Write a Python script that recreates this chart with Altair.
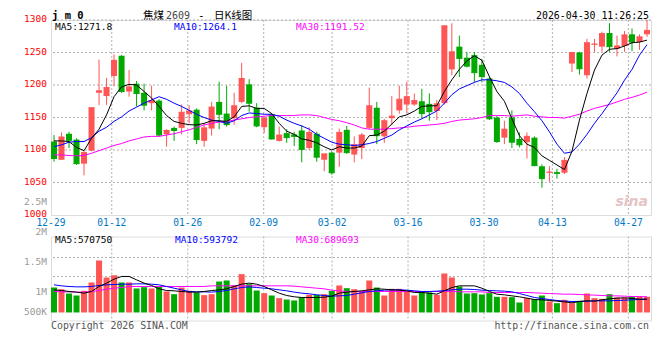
import altair as alt
import pandas as pd

# ---------------- data ----------------
tick_idx = [0, 8, 18, 28, 37, 47, 57, 66, 76]
tick_labels = ["12-29", "01-12", "01-26", "02-09", "03-02", "03-16", "03-30", "04-13", "04-27"]

opens = [1113,1085,1125,1116,1079,1099,1188,1183,1214,1245,
         1190,1202,1188,1172,1176,1124,1134,1134,1155,1162,
         1114,1133,1174,1156,1149,1174,1201,1165,1135,1155,
         1114,1126,1124,1130,1103,1125,1085,1096,1096,1131,
         1093,1103,1134,1165,1121,1149,1161,1170,1170,1175,
         1171,1160,1172,1224,1259,1242,1246,1231,1210,1150,
         1119,1150,1117,1112,1119,1075,1065,1066,1065,1233,
         1250,1215,1262,1259,1280,1256,1260,1278,1266,1278]
highs = [1123,1127,1128,1118,1099,1166,1239,1211,1247,1246,
         1223,1206,1202,1199,1178,1132,1136,1170,1169,1164,
         1141,1174,1205,1199,1188,1234,1209,1172,1151,1157,
         1136,1132,1128,1138,1135,1128,1094,1098,1133,1137,
         1121,1126,1196,1174,1148,1183,1199,1205,1187,1194,
         1187,1177,1291,1295,1276,1251,1251,1240,1213,1152,
         1145,1161,1127,1127,1121,1078,1075,1071,1089,1251,
         1251,1271,1271,1282,1295,1276,1283,1287,1278,1300]
lows = [1082,1085,1103,1077,1061,1098,1169,1169,1198,1188,
        1182,1167,1161,1161,1121,1105,1114,1124,1141,1109,
        1105,1122,1132,1136,1139,1172,1159,1135,1126,1116,
        1113,1111,1106,1081,1100,1082,1067,1062,1074,1094,
        1081,1086,1132,1109,1111,1138,1156,1156,1168,1149,
        1145,1146,1170,1215,1212,1227,1204,1204,1146,1111,
        1109,1103,1104,1087,1075,1042,1051,1056,1063,1220,
        1216,1210,1251,1251,1251,1244,1251,1252,1254,1274]
closes = [1087,1120,1115,1079,1096,1165,1191,1196,1238,1190,
          1197,1187,1169,1176,1123,1130,1130,1158,1160,1116,
          1134,1166,1155,1139,1168,1210,1172,1137,1149,1117,
          1123,1119,1121,1101,1127,1089,1094,1065,1127,1096,
          1108,1123,1168,1122,1145,1152,1178,1182,1176,1156,
          1159,1171,1291,1251,1241,1229,1219,1213,1148,1113,
          1132,1112,1108,1121,1076,1056,1066,1064,1084,1250,
          1225,1265,1263,1279,1259,1260,1277,1266,1274,1284]

ma5 = [1114,1114,1113,1104,1099,1118,1132,1154,1182,1197,
       1201,1200,1190,1180,1167,1153,1144,1141,1139,1138.5,
       1141,1145,1145,1144,1151,1167,1168,1164,1164,1156,
       1141,1129,1124,1117,1115,1111,1105,1100,1105,1103,
       1103,1106,1122,1123,1129,1140,1151,1154,1160,1167,
       1168,1168,1190,1208,1224,1237,1245,1238,1213,1190,
       1175,1148,1122,1109,1104,1091,1084,1077,1070,1098,
       1146,1187,1223,1246,1255,1256,1260,1265,1266,1269]
ma10 = [1105,1108,1112,1113,1113,1119,1129,1135,1144,1151,
        1160,1166,1172,1177,1182,1178,1172,1167,1161,1155,
        1150,1146,1144,1141,1145,1153,1157,1156,1155,1155,
        1152,1146,1141,1137,1132,1124,1118,1112,1109,1108,
        1107,1108,1110,1113,1118,1123,1131,1137,1143,1148,
        1154,1160,1172,1185,1194,1199,1204,1208,1208,1206.5,
        1204,1197,1187,1172,1159,1145,1128,1109,1095,1097,
        1109,1124,1141,1156,1172,1188,1207.5,1224,1246,1262]
ma30 = [1092.5,1092.5,1091.5,1091,1091.5,1095,1099,1103,1107,1110,
        1114,1117,1120,1121,1121,1123,1125,1128,1131,1135,
        1138.5,1141,1143,1144,1146,1148,1150,1151,1152,1153,
        1153,1153,1153,1154,1154,1153,1150,1147,1145,1142,
        1138.5,1134,1132,1132,1132,1133,1134,1135,1136.5,1137.5,
        1138.5,1139.5,1141,1144,1146,1147,1148,1150,1153,1153,
        1153,1152,1153,1154,1152,1151,1150,1150,1149,1152,
        1155,1160,1164,1167,1170,1174,1178,1181,1184.5,1189]

# volume, in millions (units of the picture's volume axis)
vol = [1.083,1.055,0.983,0.95,1.028,1.167,1.533,1.25,1.289,1.167,
       1.167,1.067,1.089,1.067,1.094,1.017,0.972,1.083,1.028,1.0,
       0.956,0.972,1.183,1.2,1.117,1.306,1.139,1.033,0.989,0.95,
       0.906,0.883,0.867,0.917,0.961,0.961,0.972,1.028,1.117,1.072,
       1.055,1.017,1.2,1.083,0.95,1.061,1.061,1.017,0.95,1.0,
       1.0,0.961,1.317,1.25,1.1,0.983,0.989,0.967,0.989,0.928,
       0.928,0.922,0.833,0.906,0.889,0.95,0.85,0.822,0.878,0.822,
       0.861,0.983,0.906,0.894,0.972,0.917,0.917,0.933,0.928,0.928]
vma5 = [1.044,1.033,1.017,1.006,0.989,1.017,1.1,1.156,1.222,1.267,
        1.267,1.211,1.156,1.117,1.061,1.033,1.028,1.017,1.006,1.006,
        1.017,1.033,1.044,1.061,1.1,1.139,1.156,1.139,1.1,1.044,
        0.989,0.95,0.928,0.917,0.917,0.917,0.922,0.94,0.989,1.006,
        1.017,1.028,1.044,1.061,1.055,1.044,1.039,1.028,1.0,1.0,
        0.989,0.972,1.028,1.083,1.111,1.111,1.111,1.072,1.017,0.972,
        0.961,0.944,0.928,0.906,0.883,0.878,0.867,0.856,0.844,0.828,
        0.85,0.861,0.856,0.878,0.894,0.906,0.911,0.9,0.889,0.889]
vma10 = [1.128,1.111,1.1,1.094,1.094,1.1,1.117,1.128,1.133,1.139,
         1.139,1.144,1.144,1.139,1.128,1.1,1.072,1.044,1.017,1.011,
         1.011,1.006,1.017,1.033,1.061,1.083,1.094,1.083,1.072,1.061,
         1.044,1.028,1.006,0.989,0.978,0.961,0.95,0.939,0.944,0.95,
         0.972,0.994,1.017,1.028,1.039,1.044,1.044,1.039,1.028,1.017,
         1.017,1.022,1.033,1.044,1.055,1.055,1.05,1.039,1.033,1.028,
         1.022,1.011,0.983,0.95,0.917,0.9,0.883,0.867,0.856,0.85,
         0.85,0.856,0.861,0.861,0.861,0.867,0.872,0.878,0.883,0.889]
vma30 = [1.017,1.011,1.011,1.006,1.006,1.017,1.033,1.055,1.072,1.083,
         1.1,1.1,1.1,1.1,1.1,1.1,1.1,1.1,1.1,1.1,
         1.1,1.111,1.111,1.111,1.111,1.111,1.111,1.111,1.111,1.111,
         1.111,1.111,1.106,1.094,1.083,1.072,1.061,1.039,1.028,1.017,
         1.017,1.017,1.017,1.017,1.017,1.017,1.017,1.017,1.017,1.017,
         1.017,1.017,1.017,1.022,1.011,1.011,1.011,1.011,1.0,1.0,
         1.0,1.0,1.0,1.0,0.994,0.989,0.983,0.978,0.972,0.972,
         0.967,0.961,0.956,0.95,0.944,0.944,0.939,0.933,0.933,0.928]

price_levels = [1000, 1050, 1100, 1150, 1200, 1250, 1300]
vol_label_vals = [0.667, 1.0, 1.5, 2.0, 2.5]
vol_label_text = ["500K", "1M", "1.5M", "2M", "2.5M"]
vol_grid_vals = [1.267, 1.583]

ma_texts = ["MA5:1271.8", "MA10:1264.1", "MA30:1191.52"]
vma_texts = ["MA5:570750", "MA10:593792", "MA30:689693"]

# ---------------- styling ----------------
RED = "#ff5555"
GREEN = "#00a800"
MONO = "DejaVu Sans Mono"
CJK = "Noto Sans CJK SC"
GRID = "#b0b0b0"
W, H1, H2 = 600, 195, 84

df = pd.DataFrame(dict(idx=list(range(len(closes))), o=opens, h=highs, l=lows, c=closes,
                       ma5=ma5, ma10=ma10, ma30=ma30, v=vol,
                       vma5=vma5, vma10=vma10, vma30=vma30))
df["dir"] = ["up" if c >= o else "down" for o, c in zip(opens, closes)]
df["x1"] = df["idx"] - 0.4
df["x2"] = df["idx"] + 0.4

ticks = pd.DataFrame({"pos": [i - 0.4 + 0.012 * i for i in tick_idx], "lbl": tick_labels})

xs = alt.Scale(domain=[-0.4, 79.53], nice=False, zero=False)
ps = alt.Scale(domain=[1000, 1300], nice=False, zero=False)
vs = alt.Scale(domain=[0.5333, 1.9333], nice=False, zero=False)
cs = alt.Scale(domain=["up", "down"], range=[RED, GREEN])

one = pd.DataFrame({"a": [0]})
base = alt.Chart(df)

X = lambda f: alt.X(f, scale=xs, axis=None)
PY = lambda f: alt.Y(f, scale=ps, axis=None)
VY = lambda f: alt.Y(f, scale=vs, axis=None)
COL = alt.Color("dir:N", scale=cs, legend=None)

def txt(t, x, y, color="black", size=9.5, align="left", font=MONO, weight="normal", baseline="middle", **kw):
    return alt.Chart(one).mark_text(text=t, align=align, baseline=baseline, font=font, fontSize=size,
                                    color=color, fontWeight=weight, **kw).encode(x=alt.value(x), y=alt.value(y))

# ---------------- main (price) panel ----------------
hgrid = alt.Chart(pd.DataFrame({"p": price_levels[1:]})).mark_rule(
    color=GRID, strokeDash=[2, 2], strokeWidth=1).encode(y=PY("p:Q"))
vgrid = alt.Chart(ticks.iloc[1:]).mark_rule(
    color=GRID, strokeDash=[2, 2], strokeWidth=1).encode(x=X("pos:Q"))
wick = base.mark_rule(strokeWidth=1).encode(x=X("idx:Q"), y=PY("l:Q"), y2="h:Q", color=COL)
body = base.mark_bar().encode(x=X("x1:Q"), x2="x2:Q", y=PY("o:Q"), y2="c:Q", color=COL)
doji = base.mark_rule(strokeWidth=1).encode(x=X("x1:Q"), x2="x2:Q", y=PY("c:Q"), color=COL)
l30 = base.mark_line(color="#ff00ff", strokeWidth=1).encode(x=X("idx:Q"), y=PY("ma30:Q"))
l10 = base.mark_line(color="#0000ff", strokeWidth=1).encode(x=X("idx:Q"), y=PY("ma10:Q"))
l5 = base.mark_line(color="#000000", strokeWidth=1).encode(x=X("idx:Q"), y=PY("ma5:Q"))

plabels = alt.Chart(pd.DataFrame({"p": price_levels, "lbl": [str(p) for p in price_levels]})).mark_text(
    align="right", baseline="middle", dx=-4, dy=-1, font=MONO, fontSize=9.5, color="#ff0000"
).encode(x=alt.value(0), y=PY("p:Q"), text="lbl:N")
dlabels = alt.Chart(ticks).mark_text(
    align="center", baseline="middle", font=MONO, fontSize=9.6, color="#0078c8"
).encode(x=X("pos:Q"), y=alt.value(H1 + 7.5), text="lbl:N")

anchor = alt.Chart(one).mark_rule(color="white", strokeWidth=1).encode(
    x=alt.value(-42), x2=alt.value(-41), y=alt.value(-11), y2=alt.value(-11))

TY = -1
MY = 6.5
main = alt.layer(
    anchor, hgrid, vgrid, wick, body, doji, l30, l10, l5,
    txt(ma_texts[0], 4, MY), txt(ma_texts[1], 123, MY, color="#0000ff"), txt(ma_texts[2], 245, MY, color="#ff00ff"),
    txt("j m 0", 1, TY, size=10.5, weight="bold", baseline="alphabetic"),
    txt("焦煤", 92, TY, size=10.5, font=CJK, baseline="alphabetic"),
    txt("2609", 115, TY, size=10, color="#444444", baseline="alphabetic"),
    txt("-", 147, TY, size=11, baseline="alphabetic"),
    txt("日K线图", 163, TY, size=10.5, font=CJK, baseline="alphabetic"),
    txt("2026-04-30 11:26:25", 598, TY, size=9.9, align="right", baseline="alphabetic"),
    txt("sina", 597, 182, size=14, color="#e6c4c4", weight="bold", font="DejaVu Sans",
        fontStyle="italic", align="right"),
    plabels, dlabels,
).properties(width=W, height=H1)

# ---------------- volume panel ----------------
vhgrid = alt.Chart(pd.DataFrame({"v": vol_grid_vals})).mark_rule(
    color=GRID, strokeDash=[2, 2], strokeWidth=1).encode(y=VY("v:Q"))
vbars = base.mark_bar().encode(x=X("x1:Q"), x2="x2:Q", y=VY("v:Q"), y2=alt.datum(0.667), color=COL)
vl30 = base.mark_line(color="#ff00ff", strokeWidth=1).encode(x=X("idx:Q"), y=VY("vma30:Q"))
vl10 = base.mark_line(color="#0000ff", strokeWidth=1).encode(x=X("idx:Q"), y=VY("vma10:Q"))
vl5 = base.mark_line(color="#000000", strokeWidth=1).encode(x=X("idx:Q"), y=VY("vma5:Q"))
vlabels = alt.Chart(pd.DataFrame({"v": vol_label_vals, "lbl": vol_label_text})).mark_text(
    align="right", baseline="middle", dx=-4, font=MONO, fontSize=9.5, color="#999999"
).encode(x=alt.value(0), y=VY("v:Q"), text="lbl:N")

volp = alt.layer(
    vhgrid, vgrid, vbars, vl30, vl10, vl5, vlabels,
    txt(vma_texts[0], 4, 3.5), txt(vma_texts[1], 124, 3.5, color="#0000ff"), txt(vma_texts[2], 245, 3.5, color="#ff00ff"),
    txt("Copyright 2026 SINA.COM", 0, H2 + 5, size=9.9, color="#555555"),
    txt("http://finance.sina.com.cn", 598, H2 + 5, size=9.9, color="#555555", align="right"),
).properties(width=W, height=H2)

chart = alt.vconcat(main, volp, spacing=21.5, bounds="flush").properties(
    padding={"left": 0, "top": 0, "right": 0, "bottom": 0}
).configure_view(stroke="#a0a0a0", strokeWidth=1).configure(background="white")

chart.save("out.html", embed_options={"renderer": "svg", "actions": False})
